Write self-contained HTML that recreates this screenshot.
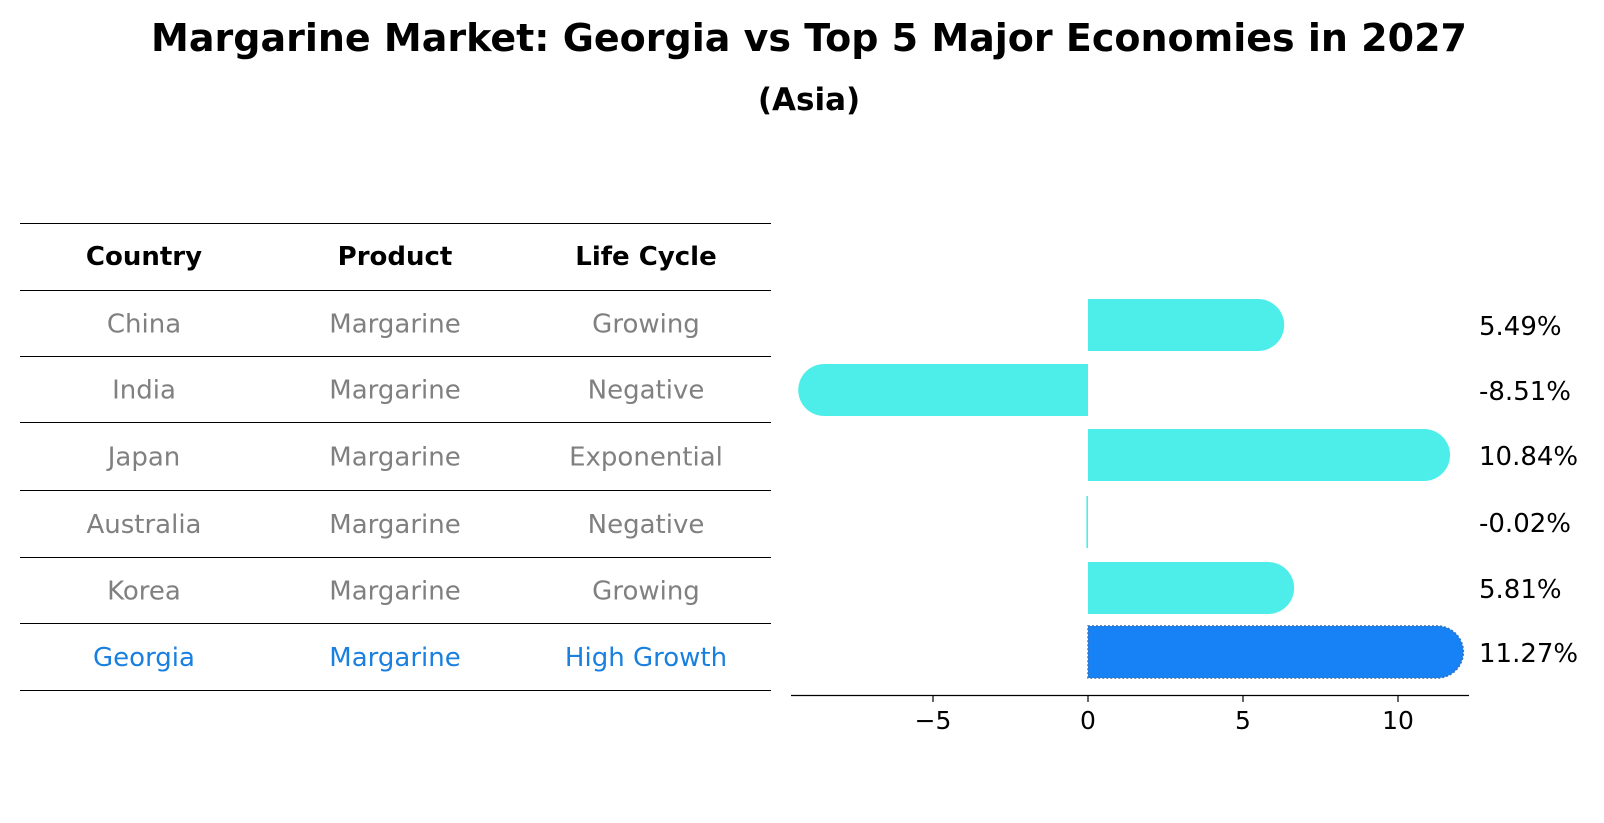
<!DOCTYPE html>
<html><head><meta charset="utf-8">
<style>
body{margin:0;background:#fff;font-family:"DejaVu Sans","Liberation Sans",sans-serif;}
svg{display:block}
</style></head>
<body>
<svg id="chart" width="1604" height="823" viewBox="0 0 1604 823" xmlns="http://www.w3.org/2000/svg" font-family="DejaVu Sans, Liberation Sans, sans-serif">
<text x="809" y="51" text-anchor="middle" font-size="38" font-weight="bold">Margarine Market: Georgia vs Top 5 Major Economies in 2027</text>
<text x="809" y="110" text-anchor="middle" font-size="31" font-weight="bold">(Asia)</text>
<g id="table"></g>
<g id="bars"></g>
</svg>
<script>
const countries=["China","India","Japan","Australia","Korea","Georgia"];
const products=["Margarine","Margarine","Margarine","Margarine","Margarine","Margarine"];
const lifeCycles=["Growing","Negative","Exponential","Negative","Growing","High Growth"];
const growthValues=[5.49,-8.51,10.84,-0.02,5.81,11.27];
const tickValues=[-5,0,5,10];
const tickLabels=["\u22125","0","5","10"];

const NS="http://www.w3.org/2000/svg";
function mk(tag,attrs,parent,text){const e=document.createElementNS(NS,tag);for(const k in attrs)e.setAttribute(k,attrs[k]);if(text!==undefined)e.textContent=text;parent.appendChild(e);return e;}

// table
const tbl=document.getElementById('table');
const lineYs=[223.5,290.5,356.5,422.5,490.5,557.5,623.5,690.5];
const colX=[144,395,646];
lineYs.forEach((y,i)=>{const l=mk('line',{x1:20,x2:771,y1:y,y2:y,stroke:'#000','stroke-width':1},tbl);

});
["Country","Product","Life Cycle"].forEach((h,j)=>{const t=mk('text',{x:colX[j],y:265,'text-anchor':'middle','font-size':26,'font-weight':'bold'},tbl,h);

});
countries.forEach((c,i)=>{
  const y=(lineYs[i+1]+lineYs[i+2])/2+9;
  const col=c==="Georgia"?'#1a80e0':'#808080';
  [c,products[i],lifeCycles[i]].forEach((v,j)=>{const t=mk('text',{x:colX[j],y:y,'text-anchor':'middle','font-size':26,fill:col},tbl,v);
  
  });
});

// bars
const g=document.getElementById('bars');
const x0=1088, ppu=31.0;
function xs(v){return x0+v*ppu;}
const rowY=[325,390,455,522,588,652];
const hh=26;
const axisY=696;
growthValues.forEach((v,i)=>{
  const isG=countries[i]==="Georgia";
  const fill=isG?'#1682f5':'#4deeea';
  const xe=xs(v), y=rowY[i];
  let d;
  const r=Math.abs(v)<0.05?0:hh;
  if(v>=0){d=`M${x0},${y-hh} L${xe},${y-hh} A${r},${hh} 0 0 1 ${xe},${y+hh} L${x0},${y+hh} Z`;}
  else{d=`M${x0},${y-hh} L${xe},${y-hh} A${r},${hh} 0 0 0 ${xe},${y+hh} L${x0},${y+hh} Z`;}
  if(r===0){d=`M${x0},${y-hh} L${xe-1},${y-hh} L${xe-1},${y+hh} L${x0},${y+hh} Z`;}
  const p=mk('path',{d:d,fill:fill,stroke:isG?'#3a6fb0':'none','stroke-width':isG?1.5:0,'stroke-dasharray':'2,2'},g);
  
  
  const t=mk('text',{x:1479,y:y+10,'font-size':26},g,v.toFixed(2)+'%');
  
  
});
const ax=mk('line',{x1:791,x2:1469,y1:axisY-0.5,y2:axisY-0.5,stroke:'#000','stroke-width':1.3},g);


tickValues.forEach((v,i)=>{
  const tk=mk('line',{x1:xs(v),x2:xs(v),y1:axisY,y2:axisY+6,stroke:'#000','stroke-width':1.2},g);
  
  
  const tl=mk('text',{x:xs(v),y:axisY+33,'text-anchor':'middle','font-size':25},g,tickLabels[i]);
  
  
});
</script>
</body></html>
